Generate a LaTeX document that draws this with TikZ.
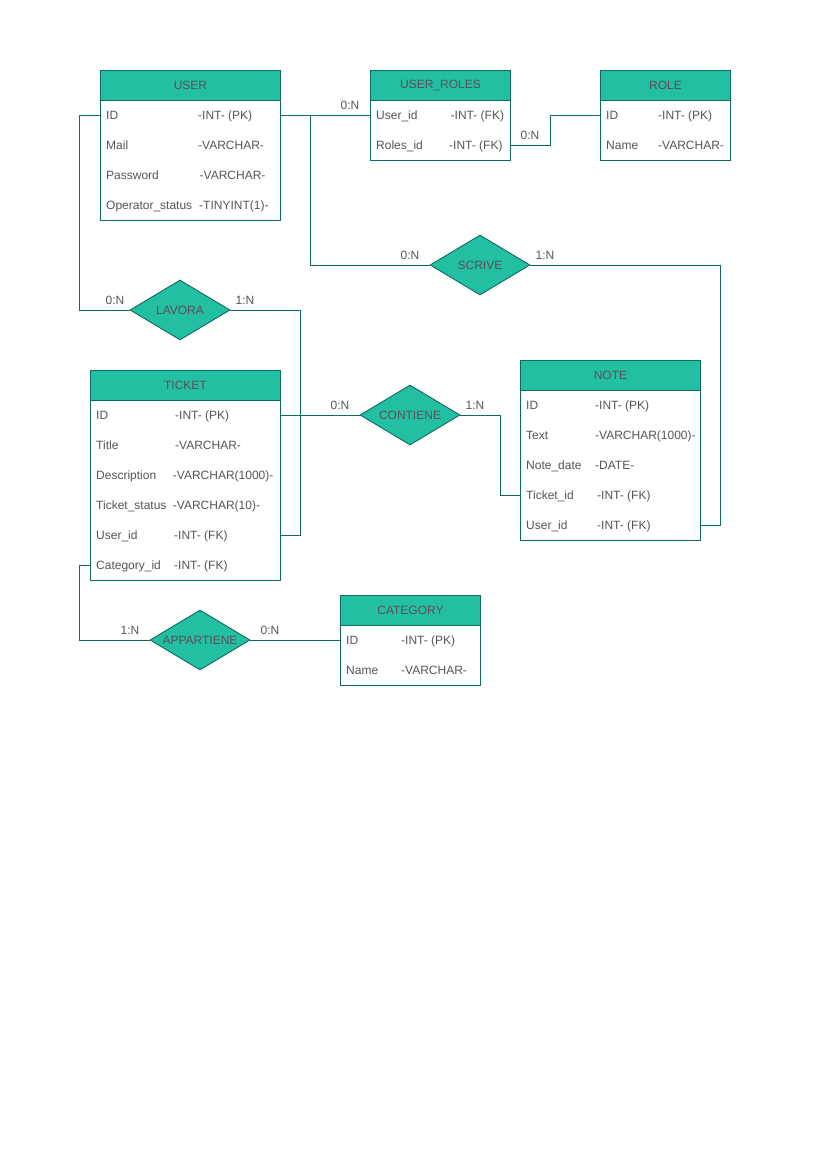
\documentclass[tikz,border=0pt]{standalone}
\usepackage{fontspec}
\setmainfont{Liberation Sans}
\usetikzlibrary{shapes.geometric}
\definecolor{erfill}{HTML}{22BFA3}
\definecolor{erline}{HTML}{0F6B5E}
\definecolor{hdtext}{HTML}{5F4D57}
\definecolor{bodytext}{HTML}{555555}
\tikzset{
  header/.style={draw=erline, line width=0.9pt, fill=erfill, text=hdtext, minimum height=30pt,
    inner sep=0pt, anchor=north west, font=\fontsize{12}{14}\selectfont},
  tabbody/.style={draw=erline, line width=0.9pt, fill=white},
  rowbox/.style={draw=none, minimum height=30pt, inner sep=0pt},
  cell/.style={anchor=west, inner sep=0pt, text=bodytext, text height=11.6pt, text depth=3pt,
    font=\fontsize{12}{14}\selectfont},
  relation/.style={diamond, draw=erline, line width=0.9pt, fill=erfill, inner sep=0pt,
    minimum width=100pt, minimum height=60pt},
  reltext/.style={text=hdtext, inner sep=0pt, font=\fontsize{12}{14}\selectfont},
  card/.style={text=bodytext, inner sep=0pt, font=\fontsize{12}{14}\selectfont},
  link/.style={draw=erline, line width=0.9pt},
}
% one attribute row: name, left x, right x, y, field, type x, type
\newcommand\tabrow[7]{%
  \node[rowbox, minimum width=#3-#2] (#1) at ({(#2+#3)/2},#4) {};
  \node[cell] at (#2+6,#4) {#5};
  \node[cell] at (#6,#4) {#7};
}
\begin{document}
\begin{tikzpicture}[x=1pt,y=-1pt]
\useasboundingbox[fill=white] (0,0) rectangle (827,1169);

% ---------- USER ----------
\draw[tabbody] (100,100) rectangle (280,220);
\node[header, minimum width=180pt] (user) at (100,70) {USER};
\tabrow{user-id}{100}{280}{115}{ID}{198}{-INT- (PK)}
\tabrow{user-mail}{100}{280}{145}{Mail}{198}{-VARCHAR-}
\tabrow{user-pwd}{100}{280}{175}{Password}{199.5}{-VARCHAR-}
\tabrow{user-op}{100}{280}{205}{Operator\_status}{199}{-TINYINT(1)-}

% ---------- USER_ROLES ----------
\draw[tabbody] (370,100) rectangle (510,160);
\node[header, minimum width=140pt] (uroles) at (370,70) {USER\_ROLES};
\tabrow{ur-user}{370}{510}{115}{User\_id}{450.5}{-INT- (FK)}
\tabrow{ur-role}{370}{510}{145}{Roles\_id}{449}{-INT- (FK)}

% ---------- ROLE ----------
\draw[tabbody] (600,100) rectangle (730,160);
\node[header, minimum width=130pt] (role) at (600,70) {ROLE};
\tabrow{role-id}{600}{730}{115}{ID}{658}{-INT- (PK)}
\tabrow{role-name}{600}{730}{145}{Name}{658}{-VARCHAR-}

% ---------- TICKET ----------
\draw[tabbody] (90,400) rectangle (280,580);
\node[header, minimum width=190pt] (ticket) at (90,370) {TICKET};
\tabrow{t-id}{90}{280}{415}{ID}{175}{-INT- (PK)}
\tabrow{t-title}{90}{280}{445}{Title}{175}{-VARCHAR-}
\tabrow{t-desc}{90}{280}{475}{Description}{172.7}{-VARCHAR(1000)-}
\tabrow{t-status}{90}{280}{505}{Ticket\_status}{172.7}{-VARCHAR(10)-}
\tabrow{t-user}{90}{280}{535}{User\_id}{174}{-INT- (FK)}
\tabrow{t-cat}{90}{280}{565}{Category\_id}{174}{-INT- (FK)}

% ---------- NOTE ----------
\draw[tabbody] (520,390) rectangle (700,540);
\node[header, minimum width=180pt] (note) at (520,360) {NOTE};
\tabrow{n-id}{520}{700}{405}{ID}{595}{-INT- (PK)}
\tabrow{n-text}{520}{700}{435}{Text}{595}{-VARCHAR(1000)-}
\tabrow{n-date}{520}{700}{465}{Note\_date}{595}{-DATE-}
\tabrow{n-ticket}{520}{700}{495}{Ticket\_id}{597}{-INT- (FK)}
\tabrow{n-user}{520}{700}{525}{User\_id}{597}{-INT- (FK)}

% ---------- CATEGORY ----------
\draw[tabbody] (340,625) rectangle (480,685);
\node[header, minimum width=140pt] (category) at (340,595) {CATEGORY};
\tabrow{c-id}{340}{480}{640}{ID}{401}{-INT- (PK)}
\tabrow{c-name}{340}{480}{670}{Name}{401}{-VARCHAR-}

% ---------- relationships ----------
\node[relation] (lavora) at (180,310) {};
\node[reltext] at (lavora.center) {LAVORA};
\node[relation] (scrive) at (480,265) {};
\node[reltext] at (scrive.center) {SCRIVE};
\node[relation] (contiene) at (410,415) {};
\node[reltext] at (contiene.center) {CONTIENE};
\node[relation] (appartiene) at (200,640) {};
\node[reltext] at (appartiene.center) {APPARTIENE};

% ---------- connectors ----------
\draw[link] (user-id.west) -- ++(-20,0) |- (lavora.west);
\draw[link] (lavora.east) -| (300,535) -- (t-user.east);
\draw[link] (user-id.east) -- (ur-user.west);
\draw[link] (user-id.east) -| (310,265) -- (scrive.west);
\draw[link] (scrive.east) -| (720,525) -- (n-user.east);
\draw[link] (ur-role.east) -| (550,115) -- (role-id.west);
\draw[link] (t-id.east) -- (contiene.west);
\draw[link] (contiene.east) -| (500,495) -- (n-ticket.west);
\draw[link] (t-cat.west) -- ++(-10,0) |- (appartiene.west);
\draw[link] (appartiene.east) -- (c-id.west);

% ---------- cardinalities ----------
\node[card] at (115,300) {0:N};
\node[card] at (245,300) {1:N};
\node[card] at (350,105) {0:N};
\node[card] at (410,255) {0:N};
\node[card] at (545,255) {1:N};
\node[card] at (530,135) {0:N};
\node[card] at (340,405) {0:N};
\node[card] at (475,405) {1:N};
\node[card] at (130,630) {1:N};
\node[card] at (270,630) {0:N};
\end{tikzpicture}
\end{document}
